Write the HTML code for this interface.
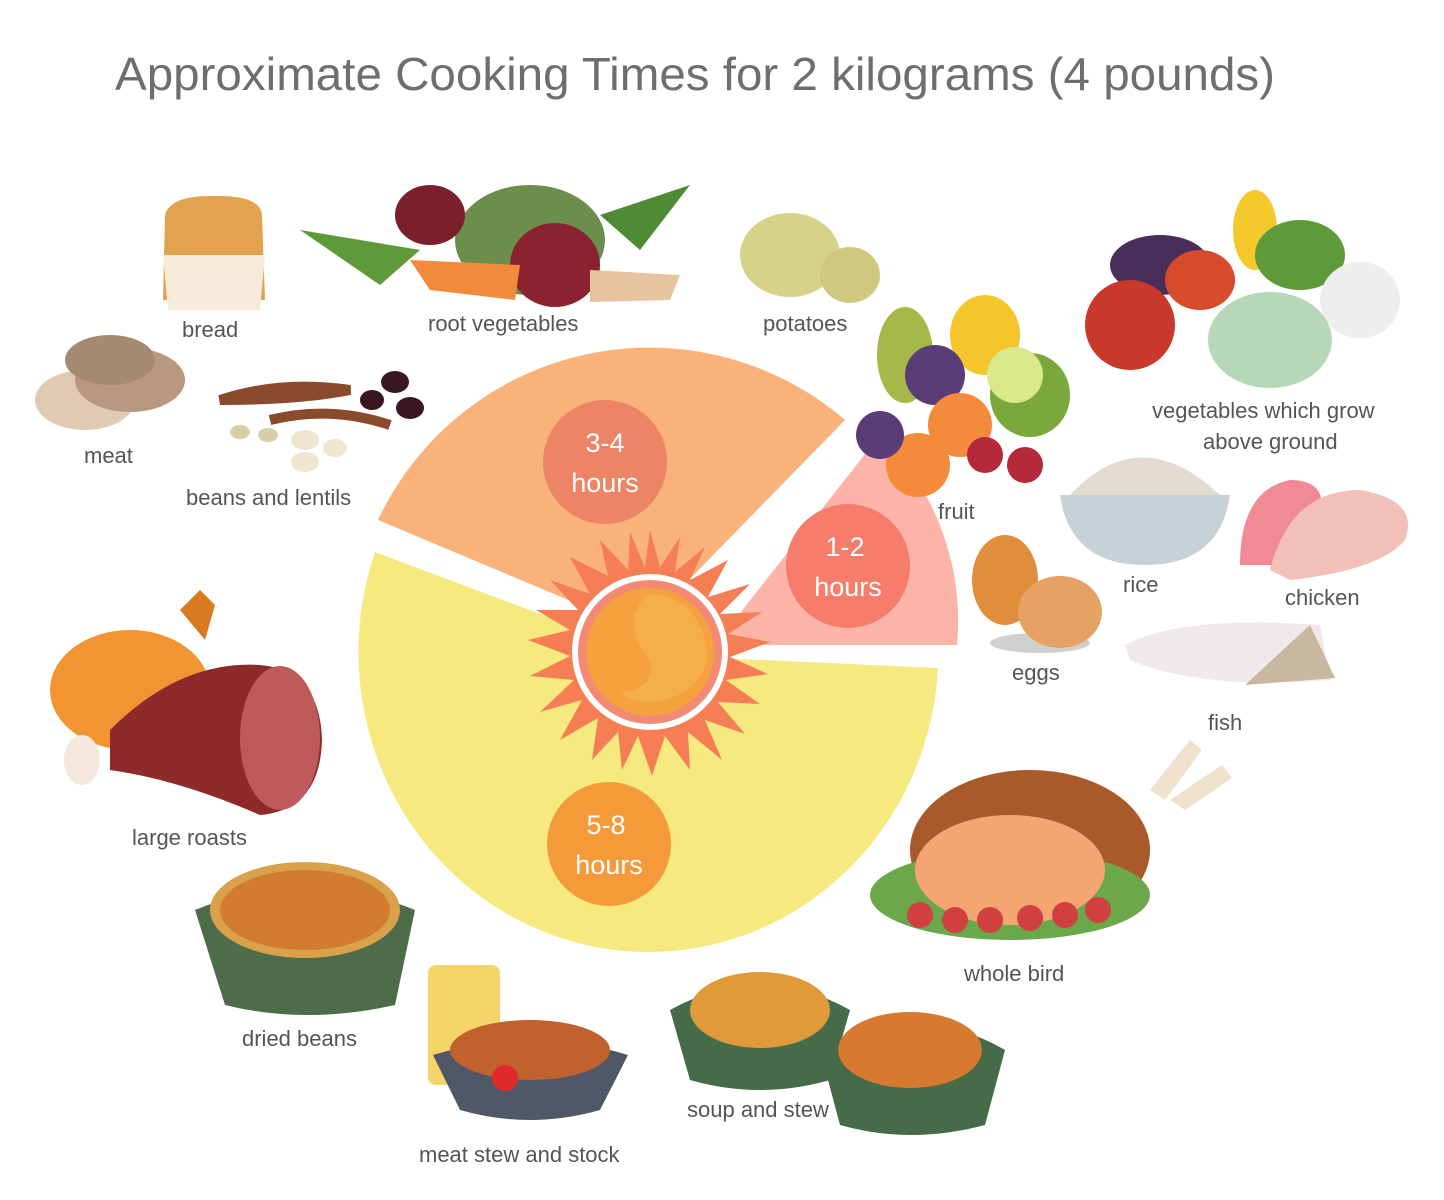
<!DOCTYPE html>
<html><head><meta charset="utf-8"><style>
html,body{margin:0;padding:0;background:#fff}
svg{display:block}
text{font-family:"Liberation Sans",sans-serif;fill:#555}
.l{font-size:22px}
.h{font-size:27px;fill:#fff;text-anchor:middle}
</style></head><body>
<svg width="1444" height="1200" viewBox="0 0 1444 1200" xmlns="http://www.w3.org/2000/svg">
<text x="115" y="90" textLength="1160" lengthAdjust="spacingAndGlyphs" style="font-size:46px;fill:#6e6e6e">Approximate Cooking Times for 2 kilograms (4 pounds)</text>

<path d="M650,655 L938,668 A290,300 0 1 1 375,552 Z" fill="#f5e97f"/>
<path d="M640,630 L378,520 A300,300 0 0 1 845,420 Z" fill="#f9b27a"/>
<path d="M715,645 L880,435 A260,260 0 0 1 957,645 Z" fill="#fdb4a8"/>

<g transform="translate(650,652)">
<polygon fill="#f57e55" points="
0,-122 10,-85 30,-115 25,-80 55,-105 40,-72 78,-92 58,-55 100,-68 70,-38 112,-40 78,-18 120,-10 80,5 118,22 76,28 110,52 68,50 95,82 55,68 72,108 38,80 40,118 15,84 2,124 -12,84 -28,118 -32,80 -58,108 -52,66 -90,88 -68,48 -110,60 -76,28 -120,24 -80,4 -122,-12 -80,-22 -114,-42 -72,-42 -100,-72 -60,-58 -80,-95 -42,-76 -50,-112 -22,-82 -20,-120 -5,-84"/>
<circle r="78" fill="#fff"/>
<circle r="72" fill="#f48a74"/>
<circle r="64" fill="#f5a13d"/>
<path d="M0,-58 C40,-58 62,-20 55,15 C40,50 -10,60 -30,40 C-5,40 10,20 -5,0 C-25,-20 -15,-50 0,-58Z" fill="#f3b04a"/>
</g>

<circle cx="605" cy="462" r="62" fill="#ed8466"/>
<text class="h" x="605" y="452">3-4</text><text class="h" x="605" y="492">hours</text>
<circle cx="848" cy="566" r="62" fill="#f67d6c"/>
<text class="h" x="845" y="556">1-2</text><text class="h" x="848" y="596">hours</text>
<circle cx="609" cy="844" r="62" fill="#f59a38"/>
<text class="h" x="606" y="834">5-8</text><text class="h" x="609" y="874">hours</text>

<path d="M165,215 Q170,195 215,196 Q260,195 262,215 L265,300 L163,300 Z" fill="#e2a24f"/>
<path d="M163,255 L265,255 L260,310 L168,310 Z" fill="#f6ead8"/>
<text class="l" x="182" y="337">bread</text>

<ellipse cx="530" cy="240" rx="75" ry="55" fill="#6c8e4c"/>
<path d="M300,230 L420,250 L380,285 Z" fill="#5e9a3a"/>
<ellipse cx="430" cy="215" rx="35" ry="30" fill="#7c1f2c"/>
<ellipse cx="555" cy="265" rx="45" ry="42" fill="#8b2230"/>
<path d="M410,260 L520,265 L515,300 L430,290 Z" fill="#f18a3a"/>
<path d="M590,270 L680,275 L670,300 L590,302 Z" fill="#e8c3a0"/>
<path d="M600,215 L690,185 L640,250 Z" fill="#4f8a34"/>
<text class="l" x="428" y="331">root vegetables</text>

<ellipse cx="790" cy="255" rx="50" ry="42" fill="#d7d28a"/>
<ellipse cx="850" cy="275" rx="30" ry="28" fill="#cfc87e"/>
<text class="l" x="763" y="331">potatoes</text>

<ellipse cx="85" cy="400" rx="50" ry="30" fill="#e0cab4"/>
<ellipse cx="130" cy="380" rx="55" ry="32" fill="#b89880"/>
<ellipse cx="110" cy="360" rx="45" ry="25" fill="#a58a70"/>
<text class="l" x="84" y="463">meat</text>

<path d="M220,400 Q280,380 350,390 Q300,400 220,400Z" fill="#8a4a2e" stroke="#8a4a2e" stroke-width="10"/>
<path d="M270,420 Q330,405 390,425" stroke="#8a4a2e" stroke-width="10" fill="none"/>
<ellipse cx="395" cy="382" rx="14" ry="11" fill="#3a1620"/>
<ellipse cx="410" cy="408" rx="14" ry="11" fill="#3a1620"/>
<ellipse cx="372" cy="400" rx="12" ry="10" fill="#3a1620"/>
<ellipse cx="305" cy="440" rx="14" ry="10" fill="#eee6cf"/>
<ellipse cx="305" cy="462" rx="14" ry="10" fill="#eee6cf"/>
<ellipse cx="335" cy="448" rx="12" ry="9" fill="#eee6cf"/>
<ellipse cx="240" cy="432" rx="10" ry="7" fill="#d8cfa8"/>
<ellipse cx="268" cy="435" rx="10" ry="7" fill="#d8cfa8"/>
<text class="l" x="186" y="505">beans and lentils</text>

<ellipse cx="905" cy="355" rx="28" ry="48" fill="#a6b84a"/>
<ellipse cx="985" cy="335" rx="35" ry="40" fill="#f4c52c"/>
<ellipse cx="935" cy="375" rx="30" ry="30" fill="#5a3c78"/>
<ellipse cx="1030" cy="395" rx="40" ry="42" fill="#7aa83a"/>
<circle cx="1015" cy="375" r="28" fill="#d8e88a"/>
<circle cx="960" cy="425" r="32" fill="#f38b3a"/>
<circle cx="918" cy="465" r="32" fill="#f38b3a"/>
<circle cx="985" cy="455" r="18" fill="#b42a3a"/>
<circle cx="1025" cy="465" r="18" fill="#b42a3a"/>
<circle cx="880" cy="435" r="24" fill="#5a3c78"/>
<text class="l" x="938" y="519">fruit</text>

<ellipse cx="1160" cy="265" rx="50" ry="30" fill="#4a2e5a"/>
<ellipse cx="1130" cy="325" rx="45" ry="45" fill="#c8392c"/>
<ellipse cx="1200" cy="280" rx="35" ry="30" fill="#d84a2c"/>
<ellipse cx="1255" cy="230" rx="22" ry="40" fill="#f5c92c"/>
<ellipse cx="1300" cy="255" rx="45" ry="35" fill="#5e9a3a"/>
<ellipse cx="1360" cy="300" rx="40" ry="38" fill="#eeeeee"/>
<ellipse cx="1270" cy="340" rx="62" ry="48" fill="#b7d8b8"/>
<text class="l" x="1152" y="418">vegetables which grow</text>
<text class="l" x="1203" y="449">above ground</text>

<path d="M1070,495 Q1140,420 1220,495 Z" fill="#e4dbd0"/>
<path d="M1060,495 L1230,495 Q1220,565 1145,565 Q1070,565 1060,495Z" fill="#c6d2d6"/>
<text class="l" x="1123" y="592">rice</text>

<path d="M1240,565 Q1240,490 1290,480 Q1330,480 1320,520 L1290,565Z" fill="#f08a94"/>
<path d="M1270,570 Q1290,490 1360,490 Q1420,500 1405,540 Q1380,570 1290,580Z" fill="#f2c0b8"/>
<text class="l" x="1285" y="605">chicken</text>

<ellipse cx="1040" cy="643" rx="50" ry="10" fill="#d0d0d0"/>
<ellipse cx="1005" cy="580" rx="33" ry="45" fill="#df8e3c"/>
<ellipse cx="1060" cy="612" rx="42" ry="36" fill="#e6a263"/>
<text class="l" x="1012" y="680">eggs</text>

<path d="M1125,645 Q1180,615 1320,625 L1330,680 Q1200,690 1130,660Z" fill="#efe9ea"/>
<path d="M1245,685 L1310,625 L1335,678Z" fill="#c8b8a0"/>
<text class="l" x="1208" y="730">fish</text>

<ellipse cx="130" cy="690" rx="80" ry="60" fill="#f29432"/>
<path d="M180,610 L200,590 L215,605 L205,640Z" fill="#d97a20"/>
<path d="M110,730 Q180,660 260,665 Q320,670 322,740 Q320,810 260,815 Q180,780 110,770Z" fill="#8e2a2a"/>
<ellipse cx="280" cy="738" rx="40" ry="72" fill="#c05a5a"/>
<ellipse cx="82" cy="760" rx="18" ry="25" fill="#f4e8dc"/>
<text class="l" x="132" y="845">large roasts</text>

<path d="M195,910 Q305,865 415,910 L395,1005 Q305,1025 225,1005Z" fill="#4e6b4a"/>
<ellipse cx="305" cy="910" rx="95" ry="48" fill="#d8a14a"/>
<ellipse cx="305" cy="910" rx="85" ry="40" fill="#d17c2e"/>
<text class="l" x="242" y="1046">dried beans</text>

<rect x="428" y="965" width="72" height="120" rx="8" fill="#f5d46a"/>
<path d="M433,1055 Q530,1025 628,1055 L600,1110 Q530,1130 460,1110Z" fill="#505868"/>
<ellipse cx="530" cy="1050" rx="80" ry="30" fill="#c0612e"/>
<circle cx="505" cy="1078" r="13" fill="#e02a2a"/>
<text class="l" x="419" y="1162">meat stew and stock</text>

<path d="M670,1010 Q760,960 850,1010 L830,1080 Q760,1100 690,1080Z" fill="#466b48"/>
<ellipse cx="760" cy="1010" rx="70" ry="38" fill="#e19a3a"/>
<path d="M820,1050 Q920,1000 1005,1050 L985,1125 Q910,1145 840,1125Z" fill="#466b48"/>
<ellipse cx="910" cy="1050" rx="72" ry="38" fill="#d57a2e"/>
<text class="l" x="687" y="1117">soup and stew</text>

<ellipse cx="1030" cy="850" rx="120" ry="80" fill="#a85a2a"/>
<path d="M1150,790 L1190,740 L1202,750 L1165,800Z" fill="#f0e2cc"/>
<path d="M1170,800 L1222,765 L1232,778 L1185,810Z" fill="#f0e2cc"/>
<ellipse cx="1010" cy="895" rx="140" ry="45" fill="#6aa84a"/>
<ellipse cx="1010" cy="870" rx="95" ry="55" fill="#f4a672"/>
<g fill="#d04040"><circle cx="920" cy="915" r="13"/><circle cx="955" cy="920" r="13"/><circle cx="990" cy="920" r="13"/><circle cx="1030" cy="918" r="13"/><circle cx="1065" cy="915" r="13"/><circle cx="1098" cy="910" r="13"/></g>
<text class="l" x="964" y="981">whole bird</text>
</svg>
</body></html>
